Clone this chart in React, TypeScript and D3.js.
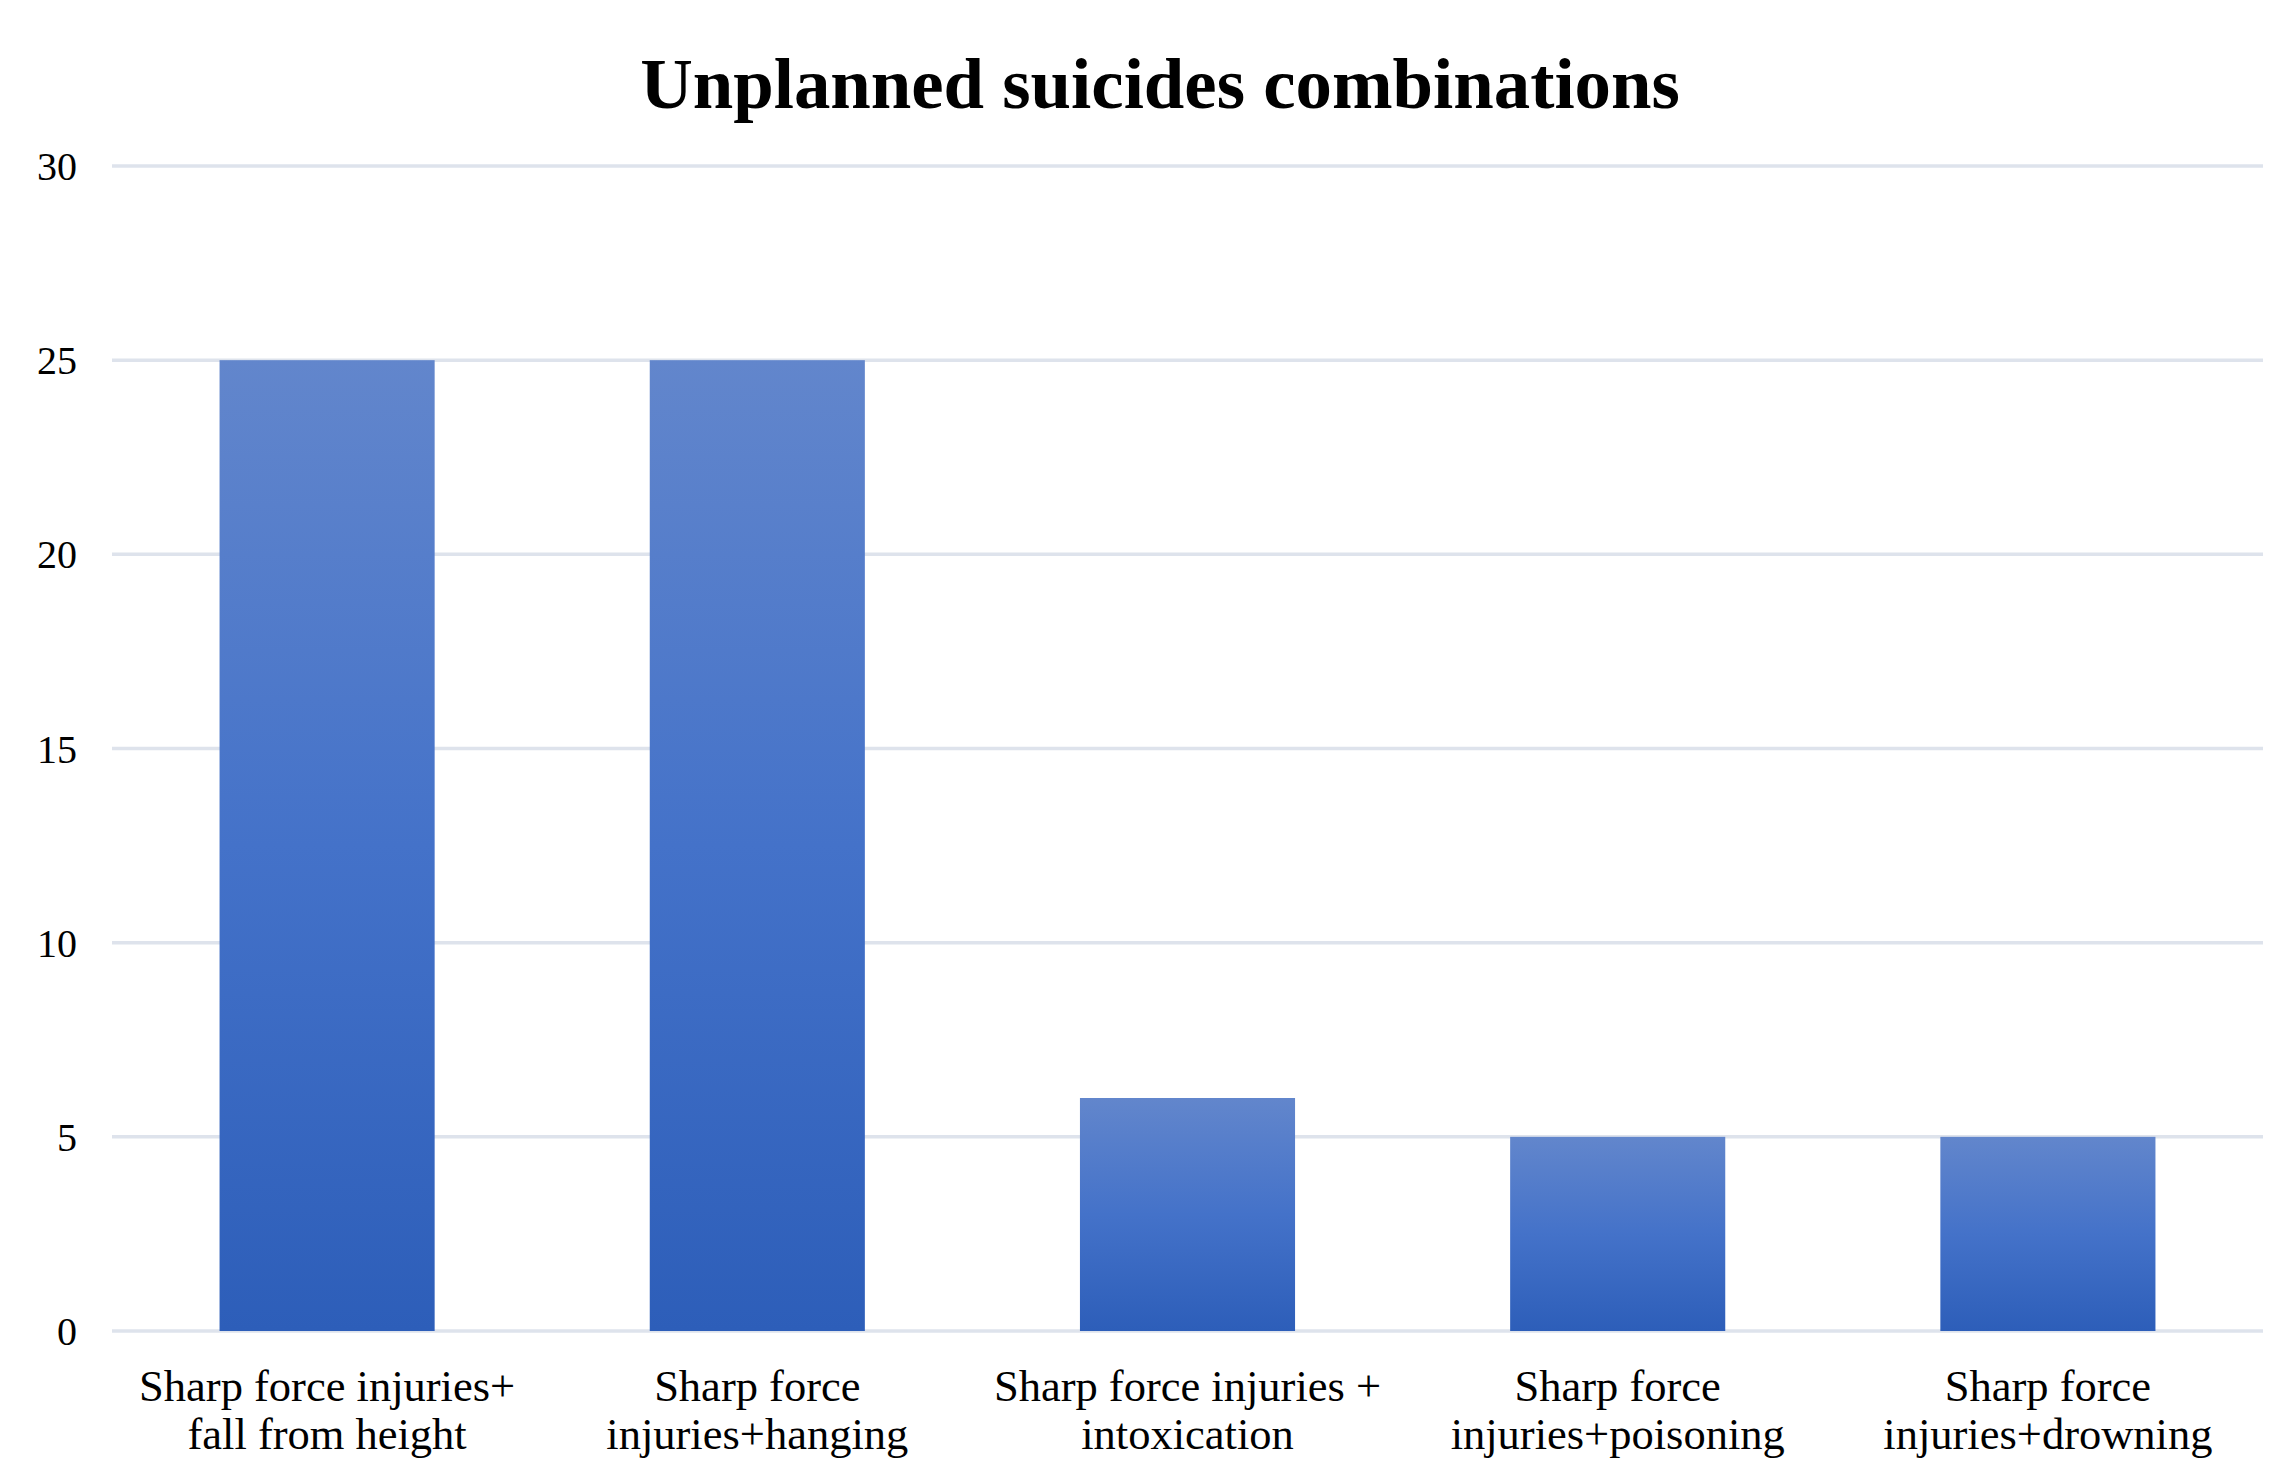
import React from "react";
import * as d3 from "d3";

const categories = ["c1", "c2", "c3", "c4", "c5"];
const labelLines = [
  ["Sharp force injuries+", "fall from height"],
  ["Sharp force", "injuries+hanging"],
  ["Sharp force injuries +", "intoxication"],
  ["Sharp force", "injuries+poisoning"],
  ["Sharp force", "injuries+drowning"],
];
const values = [25, 25, 6, 5, 5];
const yTicks = [0, 5, 10, 15, 20, 25, 30];
const title = "Unplanned suicides combinations";

const W = 2291;
const H = 1484;
const FONT = "'Liberation Serif', 'Times New Roman', serif";

export default function App() {
  const x = d3
    .scaleBand<string>()
    .domain(categories)
    .range([112, 2263])
    .paddingInner(0.5)
    .paddingOuter(0.25);
  const y = d3.scaleLinear().domain([0, 30]).range([1331, 166]);

  return (
    <svg
      width={W}
      height={H}
      viewBox={`0 0 ${W} ${H}`}
      style={{ position: "absolute", left: 0, top: 0, background: "#fff" }}
    >
      <defs>
        <linearGradient id="barGrad" x1="0" y1="0" x2="0" y2="1">
          <stop offset="0" stopColor="#6286cc" />
          <stop offset="0.5" stopColor="#4472c9" />
          <stop offset="1" stopColor="#2d5eb9" />
        </linearGradient>
      </defs>
      <rect x={0} y={0} width={W} height={H} fill="#fff" />
      <text
        x={1160}
        y={108}
        textAnchor="middle"
        fontFamily={FONT}
        fontWeight="bold"
        fontSize={72.8}
        fill="#000"
      >
        {title}
      </text>
      {yTicks.map((t) => (
        <g key={t}>
          <line
            x1={112}
            x2={2263}
            y1={y(t)}
            y2={y(t)}
            stroke="#dee3ec"
            strokeWidth={3.5}
          />
          <text
            x={77}
            y={y(t)}
            dy="0.35em"
            textAnchor="end"
            fontFamily={FONT}
            fontSize={40}
            fill="#000"
          >
            {t}
          </text>
        </g>
      ))}
      {categories.map((c, i) => (
        <rect
          key={c}
          x={x(c)}
          y={y(values[i])}
          width={x.bandwidth()}
          height={y(0) - y(values[i])}
          fill="url(#barGrad)"
        />
      ))}
      {categories.map((c, i) => (
        <text
          key={c}
          textAnchor="middle"
          fontFamily={FONT}
          fontSize={44.5}
          fill="#000"
        >
          {labelLines[i].map((l, j) => (
            <tspan key={j} x={(x(c) as number) + x.bandwidth() / 2} y={1401 + j * 48}>
              {l}
            </tspan>
          ))}
        </text>
      ))}
    </svg>
  );
}
